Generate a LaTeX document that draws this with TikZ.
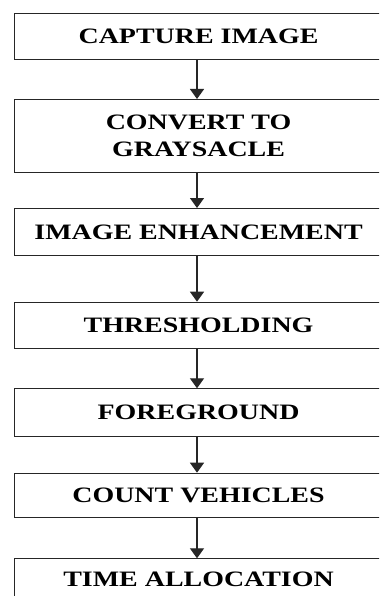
\documentclass[tikz,border=0pt]{standalone}
\usepackage{fontspec}
\setmainfont{Liberation Serif}[FakeStretch=1.27]
\usetikzlibrary{arrows.meta}
\begin{document}
\begin{tikzpicture}[x=1bp,y=-1bp,
  stepbox/.style={draw=black!85, line width=1.1bp, minimum width=368bp, inner sep=0pt,
    anchor=north west, font=\fontsize{22bp}{27bp}\selectfont\bfseries, align=center},
  flow/.style={draw=black!85, line width=1.3bp, -{Triangle[width=14bp,length=10bp]}}]
\clip (0,0) rectangle (379,596);
\fill[white] (0,0) rectangle (379,596);
\node[stepbox, minimum height=46.6bp] (a) at (14,12.7) {CAPTURE IMAGE};
\node[stepbox, minimum height=72.7bp] (b) at (14,99) {CONVERT TO\\GRAYSACLE};
\node[stepbox, minimum height=47bp] (c) at (14,208) {IMAGE ENHANCEMENT};
\node[stepbox, minimum height=46.6bp] (d) at (14,301.7) {THRESHOLDING};
\node[stepbox, minimum height=47.4bp] (e) at (14,388.3) {FOREGROUND};
\node[stepbox, minimum height=44.6bp] (f) at (14,472.7) {COUNT VEHICLES};
\node[stepbox, minimum height=40bp] (g) at (14,558.3) {TIME ALLOCATION};
\draw[flow] (a.south -| 197,0) -- (b.north -| 197,0);
\draw[flow] (b.south -| 197,0) -- (c.north -| 197,0);
\draw[flow] (c.south -| 197,0) -- (d.north -| 197,0);
\draw[flow] (d.south -| 197,0) -- (e.north -| 197,0);
\draw[flow] (e.south -| 197,0) -- (f.north -| 197,0);
\draw[flow] (f.south -| 197,0) -- (g.north -| 197,0);
\end{tikzpicture}
\end{document}
